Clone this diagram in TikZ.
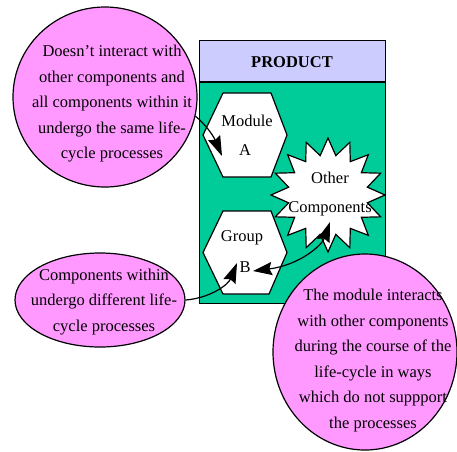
\documentclass[tikz,border=0pt]{standalone}
\usepackage{fontspec}
\setmainfont{Liberation Serif}
\usetikzlibrary{shapes.geometric,arrows.meta}
\definecolor{pinkfill}{RGB}{255,153,255}
\definecolor{lavfill}{RGB}{204,204,255}
\definecolor{greenfill}{RGB}{0,204,153}
\tikzset{
  txt/.style={font=\fontsize{16.5}{25.5}\selectfont, align=center, inner sep=0pt},
  bubble/.style={draw=black, line width=1.2pt, fill=pinkfill, ellipse, inner sep=0pt},
  hexa/.style={draw=black, line width=1.2pt, fill=white},
  arr/.style={line width=1.2pt, -{Stealth[length=20pt,width=13pt,inset=2.5pt]}},
  darr/.style={line width=1.2pt, {Stealth[length=19pt,width=13pt,inset=2.5pt]}-{Stealth[length=20pt,width=13pt,inset=2.5pt]}},
}
\begin{document}
\begin{tikzpicture}[x=1pt,y=-1pt]
\useasboundingbox (0,0) rectangle (457,451);
% product box
\node[draw=black, line width=1.2pt, fill=greenfill, minimum width=186pt, minimum height=221pt, inner sep=0pt, anchor=north west] (body) at (199,82) {};
\node[draw=black, line width=1.2pt, fill=lavfill, minimum width=186pt, minimum height=41pt, inner sep=0pt, anchor=south west] (head) at (199,82) {};
\node[txt, font=\fontsize{16.5}{25.5}\selectfont\bfseries] (prod) at (292,62) {PRODUCT};
% hexagons
\draw[hexa, shift={(245,135)}] (-42,0) -- (-22,-42) -- (26,-42) -- (42,0) -- (26,42) -- (-22,42) -- cycle;
\draw[hexa, shift={(245,252.5)}] (-42,0) -- (-22,-41.5) -- (26,-41.5) -- (42,0) -- (24,41.5) -- (-22,41.5) -- cycle;
\node[txt] (modA) at (247,121) {Module};
\node[txt] (lblA) at (245,150) {A};
\node[txt] (grpB) at (242,238) {Group};
\node[txt] (lblB) at (245,267) {B};
% star
\node[star, star points=16, star point ratio=1.42, minimum size=114pt, inner sep=0pt, draw=black, line width=1.2pt, fill=white] (other) at (328,195) {};
\node[txt] (oth1) at (330,178) {Other};
\node[txt] (oth2) at (330,209) {Components};
% bubbles
\node[bubble, minimum width=184pt, minimum height=180pt] (c1) at (105,97) {};
\node[bubble, minimum width=170pt, minimum height=94pt] (c2) at (100,300) {};
\node[bubble, minimum width=184pt, minimum height=196pt] (c3) at (365,352) {};
\node[txt] (t1) at (112,104) {Doesn’t interact with\\other components and\\all components within it\\undergo the same life-\\cycle processes};
\node[txt] (t2) at (104,302) {Components within\\undergo different life-\\cycle processes};
\node[txt] (t3) at (373,360.5) {The module interacts\\with other components\\during the course of the\\life-cycle in ways\\which do not suppport\\the processes};
% arrow end points
\coordinate (aIn) at (222,156);
\coordinate (bIn) at (237,263);
\coordinate (bIn2) at (253,271);
\coordinate (oIn) at (330,222);
% arrows
\draw[arr] (c1.-12) .. controls (205,124) and (213,135) .. (aIn);
\draw[arr] (c2.0) .. controls (210,298) and (228,285) .. (bIn);
\draw[darr] (bIn2) .. controls (300,265) and (322,245) .. (oIn);
\end{tikzpicture}
\end{document}
